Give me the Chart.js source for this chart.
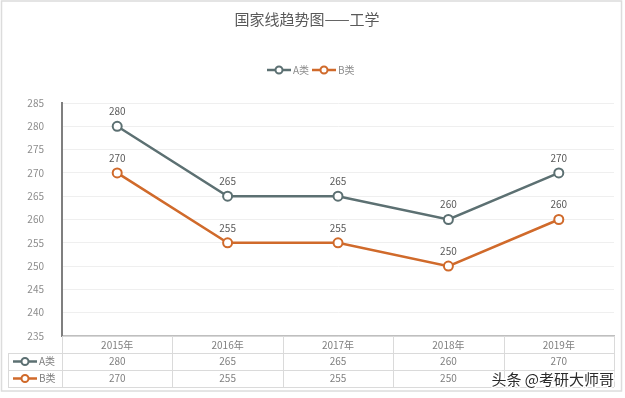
<!DOCTYPE html>
<html>
<head>
<meta charset="utf-8">
<script src="https://cdn.jsdelivr.net/npm/chart.js@4.4.0/dist/chart.umd.min.js"></script>
<style>
body { margin: 0; background: #fff; }
canvas { display: block; }
</style>
</head>
<body>
<canvas id="chart" width="625" height="398"></canvas>
<script>
// data
const years = ['2015年', '2016年', '2017年', '2018年', '2019年']
const seriesNames = ['A类', 'B类']
const classA = [280, 265, 265, 260, 270]
const classB = [270, 255, 255, 250, 260]
const yMin = 235
const yMax = 285
const yStep = 5

const colors = ['#5c7072', '#d06a2b']
const FONT = "'Noto Sans CJK SC', 'Noto Sans', sans-serif"

// legend, data labels, data table and frame
const extras = {
	id: 'extras',
	beforeDraw(chart) {
		const ctx = chart.ctx
		ctx.save()
		ctx.fillStyle = '#fff'
		ctx.fillRect(0, 0, chart.width, chart.height)
		ctx.strokeStyle = '#dcdcdc'
		ctx.lineWidth = 1.5
		ctx.strokeRect(1.5, 1, chart.width - 5, chart.height - 8)
		ctx.restore()
	},
	afterDraw(chart) {
		const ctx = chart.ctx
		const xs = chart.scales.x
		const area = chart.chartArea
		const half = (xs.getPixelForValue(1) - xs.getPixelForValue(0)) / 2
		const datasets = chart.data.datasets

		const marker = (x, y, color) => {
			ctx.strokeStyle = color
			ctx.lineWidth = 2.5
			ctx.beginPath()
			ctx.moveTo(x - 12, y)
			ctx.lineTo(x + 12, y)
			ctx.stroke()
			ctx.fillStyle = '#fff'
			ctx.lineWidth = 2
			ctx.beginPath()
			ctx.arc(x, y, 3.5, 0, Math.PI * 2)
			ctx.fill()
			ctx.stroke()
		}

		ctx.save()

		// legend
		ctx.font = '10px ' + FONT
		ctx.textBaseline = 'middle'
		ctx.textAlign = 'left'
		let lx = 279
		datasets.forEach((ds) => {
			marker(lx, 70, ds.borderColor)
			ctx.fillStyle = '#8c8c8c'
			ctx.fillText(ds.label, lx + 14, 70)
			lx += 45
		})

		// labels above the points
		ctx.textAlign = 'center'
		ctx.fillStyle = '#595959'
		datasets.forEach((ds, i) => {
			chart.getDatasetMeta(i).data.forEach((pt, j) => {
				ctx.fillText(ds.data[j], pt.x, pt.y - 15)
			})
		})

		// data table under the axis
		const rowH = 17
		const top = area.bottom
		const rows = [top + rowH, top + rowH * 2, top + rowH * 3]
		const tableLeft = 8
		ctx.strokeStyle = '#dadada'
		ctx.lineWidth = 1
		ctx.beginPath()
		rows.forEach((y) => {
			ctx.moveTo(tableLeft, y + 0.5)
			ctx.lineTo(area.right, y + 0.5)
		})
		ctx.moveTo(tableLeft + 0.5, rows[0])
		ctx.lineTo(tableLeft + 0.5, rows[2])
		for (let i = 0; i <= years.length; i++) {
			const x = Math.round(xs.getPixelForValue(0) - half + i * half * 2) + 0.5
			ctx.moveTo(x, top)
			ctx.lineTo(x, rows[2])
		}
		ctx.stroke()

		datasets.forEach((ds, i) => {
			const y = rows[i] + rowH / 2
			marker(tableLeft + 17, y, ds.borderColor)
			ctx.textAlign = 'left'
			ctx.fillStyle = '#7f7f7f'
			ctx.fillText(ds.label, tableLeft + 31, y)
			ctx.textAlign = 'center'
			ds.data.forEach((v, j) => {
				ctx.fillText(v, xs.getPixelForValue(j), y)
			})
		})

		// watermark
		ctx.font = '15px ' + FONT
		ctx.textAlign = 'right'
		ctx.lineWidth = 3
		ctx.strokeStyle = 'rgba(255,255,255,0.9)'
		ctx.strokeText('头条 @考研大师哥', 614, 379)
		ctx.fillStyle = '#2b2b2b'
		ctx.fillText('头条 @考研大师哥', 614, 379)

		ctx.restore()
	},
}

new Chart(document.getElementById('chart'), {
	type: 'line',
	data: {
		labels: years,
		datasets: [
			{ label: seriesNames[0], data: classA },
			{ label: seriesNames[1], data: classB },
		].map((ds, i) => ({
			...ds,
			borderColor: colors[i],
			backgroundColor: colors[i],
			borderWidth: 2.5,
			pointRadius: 4.5,
			pointBorderWidth: 2,
			pointBackgroundColor: '#fff',
			pointBorderColor: colors[i],
			tension: 0,
		})),
	},
	options: {
		responsive: false,
		animation: false,
		layout: { padding: { left: 0, right: 11, top: 0, bottom: 0 } },
		plugins: {
			legend: { display: false },
			tooltip: { enabled: false },
			title: {
				display: true,
				text: '国家线趋势图——工学',
				color: '#595959',
				font: { family: FONT, size: 15, weight: 'normal' },
				padding: { top: 10, bottom: 75 },
			},
		},
		scales: {
			x: {
				offset: true,
				grid: { display: false, drawTicks: false },
				border: { color: '#bfbfbf', width: 1.5 },
				ticks: {
					color: '#7f7f7f',
					font: { family: FONT, size: 10 },
					padding: 3,
					maxRotation: 0,
				},
				afterFit(scale) {
					scale.height = 62
				},
			},
			y: {
				min: yMin,
				max: yMax,
				grid: { color: '#efefef', drawTicks: false },
				border: { color: '#7f7f7f', width: 2 },
				ticks: {
					stepSize: yStep,
					color: '#8c8c8c',
					font: { family: FONT, size: 10 },
					padding: 18,
				},
				afterFit(scale) {
					scale.width = 62
				},
			},
		},
	},
	plugins: [extras],
})
</script>
</body>
</html>
